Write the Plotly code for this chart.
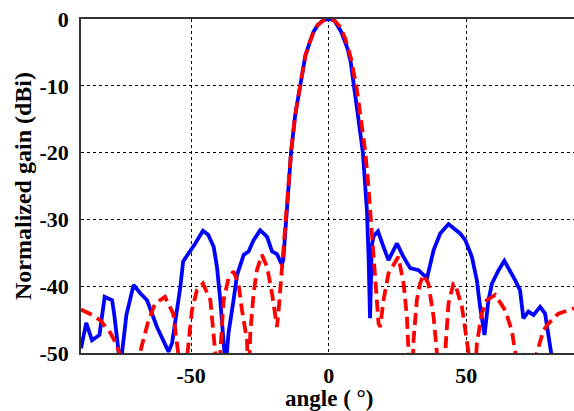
import plotly.graph_objects as go

# Measured pattern (blue, solid)
meas_angle = [-90, -88.1, -86.0, -83.3, -81.4, -78.7, -77.9, -76.3, -75.7, -75.1, -73.5, -70.9,
              -68.4, -66.0, -62.4, -60.0, -58.2, -56.9, -53.9, -52.9, -50.9, -48.5, -45.7,
              -43.8, -41.8, -40.6, -39.4, -38.4, -37.6, -37.3, -37.0, -36.4, -34.6, -33.3,
              -30.9, -29.1, -27.3, -24.9, -22.4, -20.6, -18.8, -17.0, -16.5, -16.0, -15.5,
              -15.0, -13.7, -12.2, -10.5, -8.5, -7.0, -5.5, -4.0, -2.0, 0,
              2.0, 4.5, 6.8, 8.0, 9.3, 10.6, 12.4, 13.2, 13.9, 14.5, 15.0, 15.3, 15.6, 16.3,
              17.9, 19.8, 21.7, 24.8, 27.0, 29.6, 32.6, 35.7, 38.1, 40.5, 43.5, 47.7, 49.6,
              52.0, 53.8, 55.0, 56.2, 56.6, 58.0, 59.3, 61.7, 63.8, 67.7, 69.5, 70.7, 72.5,
              74.4, 76.8, 78.6, 79.8, 80.8, 82.0]
meas_gain = [-49.3, -45.5, -48.1, -47.3, -41.6, -42.1, -44.3, -50.0, -55.0, -50.0, -44.3, -39.8,
             -41.1, -42.1, -46.1, -48.1, -49.8, -48.5, -40.1, -36.3, -35.1, -33.6, -31.7,
             -32.3, -34.1, -37.1, -42.1, -47.1, -50.0, -53.0, -50.0, -47.0, -42.1, -38.3,
             -35.3, -34.8, -33.1, -31.6, -32.6, -34.8, -35.2, -36.8, -36.0, -33.3, -29.5,
             -26.5, -20.0, -14.4, -10.0, -5.5, -3.6, -1.9, -0.9, -0.2, 0.0,
             -0.2, -1.9, -4.4, -6.5, -10.0, -14.4, -20.0, -24.4, -28.8, -36.0, -44.8, -40.0,
             -34.0, -32.5, -31.8, -34.0, -36.1, -33.6, -35.5, -37.3, -37.6, -38.8, -34.6,
             -32.1, -30.7, -32.1, -33.1, -35.6, -39.1, -43.1, -47.1, -47.3, -42.1, -39.6,
             -37.6, -36.2, -39.1, -40.6, -44.8, -43.8, -44.3, -43.1, -44.1, -47.1, -50.0, -55.0]

# Simulated pattern (red, dashed)
sim_angle = [-90, -86.0, -83.0, -79.3, -77.0, -75.7, -72.0, -68.6, -65.6, -63.1, -59.5, -56.5,
             -54.7, -53.0, -51.3, -49.7, -47.9, -45.7, -43.0, -41.8, -41.2, -40.3, -39.4,
             -38.2, -36.4, -34.6, -32.8, -31.5, -29.7, -29.1, -28.5, -27.3, -26.1, -24.3,
             -22.4, -20.6, -19.4, -18.8, -18.2, -17.0, -15.0, -13.7, -12.2, -10.5, -8.5,
             -7.0, -5.5, -4.0, -2.0, 0,
             2.0, 4.0, 6.0, 8.0, 10.0, 11.7, 13.3, 14.3, 15.1, 16.0, 16.9, 18.1, 18.7, 19.9,
             21.7, 25.3, 27.2, 28.4, 29.0, 29.9, 30.8, 32.0, 33.2, 34.4, 36.2, 38.1, 39.3,
             40.8, 42.3, 43.5, 45.3, 45.9, 48.4, 49.6, 50.8, 52.3, 53.8, 55.6, 57.4, 60.5,
             64.1, 66.5, 67.7, 71.6, 75.6, 78.0, 79.8, 83.4, 87.1, 89.1]
sim_gain = [-43.5, -44.3, -45.1, -47.0, -48.8, -50.5, -60.0, -50.0, -45.3, -42.6, -41.6, -44.1,
            -50.0, -60.0, -50.0, -43.6, -40.6, -39.6, -42.1, -47.0, -50.0, -60.0, -50.0,
            -42.1, -38.8, -37.8, -39.6, -43.6, -48.1, -55.0, -47.0, -41.1, -37.6, -35.3,
            -37.1, -41.1, -44.6, -46.1, -43.6, -37.1, -27.1, -20.0, -14.4, -10.0, -5.5,
            -3.6, -1.9, -0.9, -0.2, 0.0,
            -0.2, -1.1, -2.9, -5.8, -10.0, -15.0, -20.0, -24.5, -28.8, -34.0, -39.6, -45.6,
            -46.1, -42.1, -38.1, -35.6, -39.6, -44.6, -50.0, -60.0, -48.1, -42.1, -39.6,
            -38.3, -39.6, -44.6, -50.0, -60.0, -50.0, -42.6, -39.6, -39.6, -43.1, -47.1,
            -50.0, -60.0, -48.6, -44.1, -42.1, -41.3, -43.6, -46.6, -50.0, -60.0, -50.0,
            -46.6, -45.6, -44.1, -43.6, -43.3]

x_ticks = [-50, 0, 50]
y_ticks = [0, -10, -20, -30, -40, -50]
x_title = "angle ( °)"
y_title = "Normalized gain (dBi)"

fig = go.Figure()
fig.add_trace(go.Scatter(x=meas_angle, y=meas_gain, mode="lines",
                         line=dict(color="#0000FF", width=3.8), showlegend=False))
fig.add_trace(go.Scatter(x=sim_angle, y=sim_gain, mode="lines",
                         line=dict(color="#FF0000", width=3.8, dash="12px,6px"), showlegend=False))

font_family = "Liberation Serif"
tickfont = dict(family=font_family, size=22, color="black", weight="bold")
fig.update_layout(
    width=574, height=411,
    margin=dict(l=81, r=0, t=19, b=58, autoexpand=False),
    paper_bgcolor="white", plot_bgcolor="white",
    font=dict(family=font_family, color="black"),
    xaxis=dict(range=[-90, 89.1], tickvals=x_ticks, ticktext=[str(v) for v in x_ticks],
               showgrid=True, gridcolor="black", griddash="dot", gridwidth=1,
               zeroline=False, showline=True, linecolor="#333333", linewidth=1.5,
               mirror=True, ticks="", automargin=False, ticklabelstandoff=2,
               tickfont=tickfont),
    yaxis=dict(range=[-50, 0], tickvals=y_ticks, ticktext=[str(v) for v in y_ticks],
               showgrid=True, gridcolor="black", griddash="dot", gridwidth=1,
               zeroline=False, showline=True, linecolor="#333333", linewidth=1.5,
               ticks="", automargin=False, ticklabelstandoff=6,
               tickfont=tickfont),
    annotations=[
        dict(text="<b>" + x_title + "</b>", xref="x", x=0, yref="paper", y=0,
             yanchor="top", xanchor="center", yshift=-32, showarrow=False, borderpad=0,
             font=dict(family=font_family, size=23, color="black")),
        dict(text="<b>" + y_title + "</b>", xref="paper", x=0, yref="paper", y=0.5,
             xanchor="center", yanchor="middle", xshift=-58, textangle=-90, showarrow=False,
             font=dict(family=font_family, size=24, color="black")),
    ],
)

fig.write_html("out.html", config={"displayModeBar": False},
               post_script="document.body.style.margin='0px';")
